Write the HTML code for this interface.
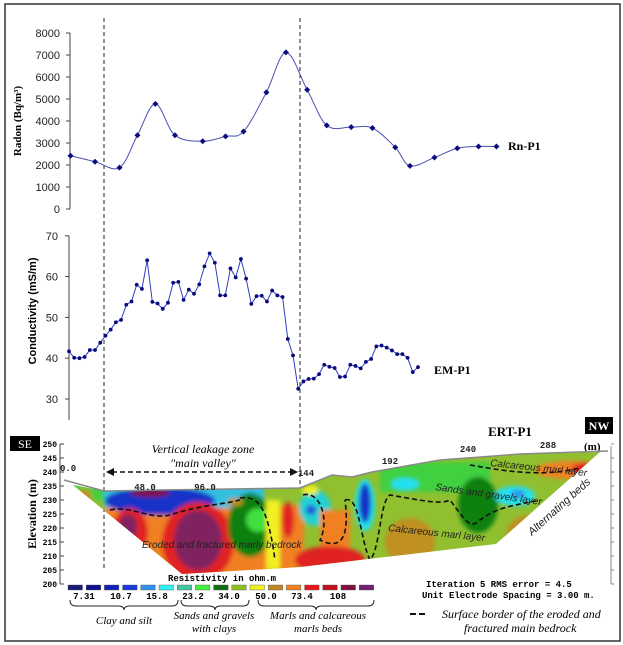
<!DOCTYPE html>
<html><head><meta charset="utf-8"><style>
html,body{margin:0;padding:0;background:#fff;}
svg{display:block;}
text{font-family:"Liberation Sans",sans-serif;}
.serif,.serif text{font-family:"Liberation Serif",serif;}
.mono,.mono text{font-family:"Liberation Mono",monospace;}
</style></head><body>
<svg id="fig" width="623" height="645" viewBox="0 0 623 645" xmlns="http://www.w3.org/2000/svg">
<defs>
<clipPath id="sec"><polygon points="73,485 104,491 160,490 230,489 300,488 332,475 352,477 372,472 440,460 520,454 600,452 496,544 300,567 182,574"/></clipPath>
<filter id="bl" x="-20%" y="-20%" width="140%" height="140%"><feGaussianBlur stdDeviation="2"/></filter>
</defs>
<rect x="5" y="4" width="615" height="637" fill="none" stroke="#333" stroke-width="1.5"/>
<line x1="104" y1="18" x2="104" y2="568" stroke="#222" stroke-dasharray="4,3"/>
<line x1="300" y1="18" x2="300" y2="495" stroke="#222" stroke-dasharray="4,3"/>

<g id="radon">
<text transform="translate(21,121) rotate(-90)" text-anchor="middle" font-size="11" font-weight="bold" class="serif">Radon (Bq/m³)</text>
<text x="508" y="150" font-size="12" font-weight="bold" class="serif">Rn-P1</text>
</g>
<g id="em">
<text transform="translate(36,311) rotate(-90)" text-anchor="middle" font-size="11" font-weight="bold">Conductivity  (mS/m)</text>
<text x="434" y="374" font-size="12" font-weight="bold" class="serif">EM-P1</text>
</g>

<g id="ert">
<rect x="10" y="436" width="30" height="15" fill="#000"/>
<text x="25" y="448" text-anchor="middle" fill="#fff" font-size="12" class="serif">SE</text>
<rect x="585" y="417" width="28" height="17" fill="#000"/>
<text x="599" y="430" text-anchor="middle" fill="#fff" font-size="12" font-weight="bold" class="serif">NW</text>
<text x="510" y="436" text-anchor="middle" font-size="13" font-weight="bold" class="serif">ERT-P1</text>
<text transform="translate(36,514) rotate(-90)" text-anchor="middle" font-size="12" font-weight="bold" class="serif">Elevation (m)</text>
<line x1="60" y1="444" x2="60" y2="584" stroke="#444"/>
<line x1="611" y1="446" x2="611" y2="584" stroke="#888"/>
<g id="ertTicks"></g>
<text x="584" y="450" font-size="11" font-weight="bold" class="serif">(m)</text>
<g clip-path="url(#sec)">
<rect x="60" y="440" width="560" height="140" fill="#90c030"/>
<g filter="url(#bl)">
<rect x="70" y="440" width="40" height="60" fill="#40d040"/>
<ellipse cx="84" cy="497" rx="8" ry="8" fill="#c09020"/>
<rect x="104" y="505" width="200" height="80" fill="#f08020"/>
<rect x="104" y="486" width="160" height="22" fill="#30c0e0"/>
<ellipse cx="160" cy="501" rx="55" ry="14" fill="#1830c8"/>
<ellipse cx="150" cy="493" rx="20" ry="4" fill="#801040"/>
<ellipse cx="130" cy="532" rx="18" ry="24" fill="#e02020"/>
<ellipse cx="128" cy="527" rx="9" ry="13" fill="#802060"/>
<ellipse cx="198" cy="542" rx="36" ry="40" fill="#e02020"/>
<ellipse cx="198" cy="540" rx="24" ry="30" fill="#802060"/>
<ellipse cx="250" cy="525" rx="22" ry="32" fill="#108010"/>
<ellipse cx="258" cy="520" rx="12" ry="12" fill="#40e040"/>
<rect x="266" y="500" width="14" height="70" fill="#f0f020"/>
<ellipse cx="235" cy="502" rx="8" ry="4" fill="#c09020"/>
<ellipse cx="288" cy="520" rx="6" ry="18" fill="#e02020"/>
<ellipse cx="315" cy="508" rx="16" ry="18" fill="#20d0d0"/>
<ellipse cx="311" cy="510" rx="5" ry="5" fill="#2050e0"/>
<ellipse cx="310" cy="490" rx="8" ry="5" fill="#f0f020"/>
<rect x="320" y="510" width="30" height="70" fill="#f08020"/>
<ellipse cx="330" cy="560" rx="35" ry="14" fill="#e02020"/>
<ellipse cx="365" cy="505" rx="10" ry="26" fill="#20e0f0"/>
<ellipse cx="365" cy="503" rx="6" ry="20" fill="#1830c8"/>
<rect x="380" y="462" width="110" height="30" fill="#40d040"/>
<ellipse cx="405" cy="484" rx="14" ry="6" fill="#20e0f0"/>
<ellipse cx="410" cy="542" rx="25" ry="24" fill="#c09020"/>
<ellipse cx="478" cy="505" rx="20" ry="28" fill="#108010"/>
<ellipse cx="515" cy="496" rx="20" ry="10" fill="#20e0f0"/>
<ellipse cx="518" cy="494" rx="7" ry="4" fill="#3090f0"/>
<ellipse cx="530" cy="535" rx="24" ry="20" fill="#c09020"/>
<ellipse cx="535" cy="532" rx="10" ry="10" fill="#f08020"/>
<ellipse cx="570" cy="470" rx="35" ry="9" fill="#f08020"/>
<ellipse cx="585" cy="470" rx="14" ry="7" fill="#e02020"/>
<ellipse cx="598" cy="494" rx="12" ry="12" fill="#2050e0"/>
</g>
<g fill="none" stroke="#111" stroke-width="1.6" stroke-dasharray="5,3">
<path d="M110,510 C130,505 150,520 170,515 C200,505 220,505 240,500"/>
<path d="M240,498 C260,495 268,510 275,560"/>
<path d="M303,495 C320,490 330,520 320,540 C340,550 350,540 345,500"/>
<path d="M345,500 C360,495 360,540 370,560 C380,550 380,500 390,495 C420,500 440,505 450,500 C465,520 470,530 480,520 C500,505 520,505 540,500"/>
<path d="M470,465 C500,470 540,478 580,468"/>
</g>
</g>
<polyline points="64,480 104,491 160,490 230,489 300,488 332,475 352,477 372,472 440,460 520,454 608,451" fill="none" stroke="#888" stroke-width="1.5"/>
<g font-size="9" class="mono" font-weight="bold" fill="#222">
<text x="60" y="471">0.0</text>
<text x="145" y="490" text-anchor="middle">48.0</text>
<text x="205" y="490" text-anchor="middle">96.0</text>
<text x="306" y="476" text-anchor="middle">144</text>
<text x="390" y="464" text-anchor="middle">192</text>
<text x="468" y="452" text-anchor="middle">240</text>
<text x="548" y="448" text-anchor="middle">288</text>
</g>
<g font-size="10" font-style="italic" fill="#222">
<text x="142" y="548">Eroded  and  fractured  marly  bedrock</text>
<text x="388" y="531" transform="rotate(6 388 531)">Calcareous marl layer</text>
<text x="435" y="490" transform="rotate(8 435 490)">Sands  and  gravels  layer</text>
<text x="490" y="466" transform="rotate(6 490 466)">Calcareous marl layer</text>
<text x="532" y="536" transform="rotate(-42 532 536)" font-size="11">Alternating beds</text>
</g>
<text x="203" y="453" text-anchor="middle" font-size="12" font-style="italic" class="serif">Vertical leakage zone</text>
<text x="203" y="467" text-anchor="middle" font-size="12" font-style="italic" class="serif">"main valley"</text>
<line x1="112" y1="472" x2="292" y2="472" stroke="#111" stroke-width="1.5" stroke-dasharray="5,3"/>
<polygon points="106,472 114,468 114,476" fill="#111"/>
<polygon points="298,472 290,468 290,476" fill="#111"/>
<text x="222" y="581" text-anchor="middle" font-size="9" class="mono" font-weight="bold">Resistivity in ohm.m</text>
<g id="cbar"></g>
<g font-size="9" class="mono" font-weight="bold">
<text x="84" y="599" text-anchor="middle">7.31</text>
<text x="121" y="599" text-anchor="middle">10.7</text>
<text x="157" y="599" text-anchor="middle">15.8</text>
<text x="193" y="599" text-anchor="middle">23.2</text>
<text x="229" y="599" text-anchor="middle">34.0</text>
<text x="266" y="599" text-anchor="middle">50.0</text>
<text x="302" y="599" text-anchor="middle">73.4</text>
<text x="338" y="599" text-anchor="middle">108</text>
</g>
<g fill="none" stroke="#222" stroke-width="1">
<path d="M70,600 q0,6 6,6 h42 q6,0 6,4 q0,-4 6,-4 h42 q6,0 6,-6"/>
<path d="M181,600 q0,6 6,6 h22 q6,0 6,4 q0,-4 6,-4 h22 q6,0 6,-6"/>
<path d="M258,600 q0,6 6,6 h46 q6,0 6,4 q0,-4 6,-4 h46 q6,0 6,-6"/>
</g>
<g font-size="11" font-style="italic" class="serif" text-anchor="middle">
<text x="124" y="624">Clay and silt</text>
<text x="214" y="619">Sands and gravels</text>
<text x="214" y="632">with clays</text>
<text x="318" y="619">Marls and calcareous</text>
<text x="318" y="632">marls beds</text>
</g>
<g font-size="9" class="mono" font-weight="bold">
<text x="426" y="587">Iteration 5 RMS error = 4.5</text>
<text x="422" y="598">Unit Electrode Spacing = 3.00 m.</text>
</g>
<line x1="410" y1="614" x2="428" y2="614" stroke="#111" stroke-width="2" stroke-dasharray="6,3"/>
<text x="442" y="618" font-size="12" font-style="italic" class="serif">Surface border of the eroded and</text>
<text x="464" y="632" font-size="12" font-style="italic" class="serif">fractured main bedrock</text>
</g>
</svg>
<script>
const rnDist = [4,19,34,45,56,68,85,99,110,124,136,149,161,176,189,203,212,227,241,254,265];
const rnValues = [2420,2150,1880,3350,4780,3350,3080,3300,3520,5300,7120,5420,3800,3720,3680,2800,1960,2340,2760,2840,2840];
const rnTicks = [0,1000,2000,3000,4000,5000,6000,7000,8000];
const emValues = [41.7,40.1,40,40.3,42,42,43.8,45.5,47,48.8,49.4,53.1,53.9,58,57,64,53.8,53.4,52.1,53.6,58.5,58.7,54.3,56.8,55.8,58.1,62.5,65.7,63.4,55.4,55.4,62,59.8,64.3,59.5,53.3,55.2,55.3,53.9,56.6,55.4,55,44.7,40.7,32.5,34.3,34.9,35,36.1,38.4,37.9,37.6,35.4,35.5,38.4,38.1,37.5,39.1,39.8,42.9,43.1,42.6,41.9,41,41,40.1,36.6,37.8];
const emTicks = [30,40,50,60,70];
const elevTicks = [200,205,210,215,220,225,230,235,240,245,250];
const cbarColors = ["#1a1a78","#10108c","#1020b8","#1838e0","#3090f0","#30f0f0","#40c8a0","#40f040","#107010","#90c020","#f0f020","#c08820","#f08020","#e81818","#c01020","#801040","#702070"];

const NS="http://www.w3.org/2000/svg";
function mk(tag,attrs,parent){const e=document.createElementNS(NS,tag);for(const k in attrs)e.setAttribute(k,attrs[k]);parent.appendChild(e);return e;}
const xDist = d => 64 + d*1.632;
const gR=document.getElementById('radon');
const yR = v => 209 - v*0.022;
let ax=mk('line',{x1:70,y1:yR(8000),x2:70,y2:yR(0),stroke:'#444'},gR);


rnTicks.forEach(t=>{
  const tk=mk('line',{x1:66,y1:yR(t),x2:70,y2:yR(t),stroke:'#444'},gR);
  
  
  const tx=mk('text',{x:60,y:yR(t)+4,'text-anchor':'end','font-size':11,fill:'#222'},gR);
  tx.textContent=t;
  
  
});
function smooth(pts){let d='M'+pts[0][0]+','+pts[0][1];for(let i=0;i<pts.length-1;i++){const p0=pts[i-1]||pts[i],p1=pts[i],p2=pts[i+1],p3=pts[i+2]||p2;const c1=[p1[0]+(p2[0]-p0[0])/6,p1[1]+(p2[1]-p0[1])/6],c2=[p2[0]-(p3[0]-p1[0])/6,p2[1]-(p3[1]-p1[1])/6];d+=` C${c1[0]},${c1[1]} ${c2[0]},${c2[1]} ${p2[0]},${p2[1]}`;}return d;}
const rPts=rnValues.map((v,i)=>[xDist(rnDist[i]),yR(v)]);
const rl=mk('path',{d:smooth(rPts),fill:'none',stroke:'#4a50b0','stroke-width':1},gR);


rPts.forEach(p=>{
  const c=mk('path',{d:`M${p[0]},${p[1]-3}L${p[0]+3},${p[1]}L${p[0]},${p[1]+3}L${p[0]-3},${p[1]}Z`,fill:'#0a0a80'},gR);
  
  
});
const gE=document.getElementById('em');
const yE = v => 399 - (v-30)*4.08;
ax=mk('line',{x1:69,y1:yE(70),x2:69,y2:420,stroke:'#444'},gE);


emTicks.forEach(t=>{
  const tk=mk('line',{x1:65,y1:yE(t),x2:69,y2:yE(t),stroke:'#444'},gE);
  
  
  const tx=mk('text',{x:58,y:yE(t)+4,'text-anchor':'end','font-size':11,fill:'#222'},gE);
  tx.textContent=t;
  
  
});
const xE = i => 69 + i*(418-69)/(emValues.length-1);
const ePts=emValues.map((v,i)=>[xE(i),yE(v)]);
const el=mk('polyline',{points:ePts.map(p=>p.join(',')).join(' '),fill:'none',stroke:'#3040c0','stroke-width':1},gE);


ePts.forEach(p=>{
  const c=mk('circle',{cx:p[0],cy:p[1],r:1.9,fill:'#0a0a80'},gE);
  
  
});
const gT=document.getElementById('ertTicks');
const yEl = v => 584 - (v-200)*2.8;
elevTicks.forEach(t=>{
  const tk=mk('line',{x1:60,y1:yEl(t),x2:64,y2:yEl(t),stroke:'#444'},gT);
  
  
  const tk2=mk('line',{x1:611,y1:yEl(t),x2:614,y2:yEl(t),stroke:'#888'},gT);
  
  
  const tx=mk('text',{x:57,y:yEl(t)+3,'text-anchor':'end','font-size':8,'font-weight':'bold',class:'mono'},gT);
  tx.textContent=t;
  
  
});
const gC=document.getElementById('cbar');
cbarColors.forEach((c,i)=>{
  const r=mk('rect',{x:68+i*18.2,y:585,width:14.5,height:5,fill:c,stroke:'#555','stroke-width':0.4},gC);
  
  
});
</script>
</body></html>
